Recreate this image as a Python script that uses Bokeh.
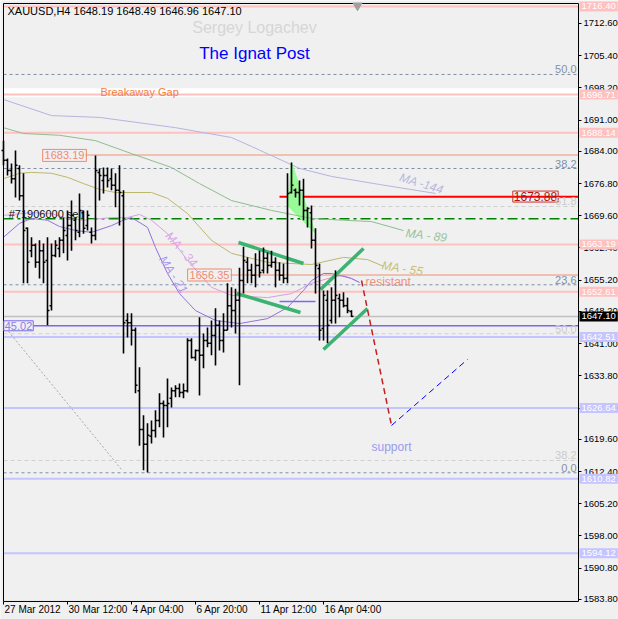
from bokeh.plotting import figure
from bokeh.models import (BoxAnnotation, Label, FixedTicker, LinearAxis,
                          PrintfTickFormatter, ColumnDataSource)
from bokeh.embed import file_html
from bokeh.resources import INLINE

FONT = "Liberation Sans"

# ---------------- data (XAUUSD H4 bars, index = bar number) ----------------
bar_open = [1684.2, 1682.0, 1679.7, 1677.9, 1680.2, 1674.1, 1666.8, 1661.8, 1663.0, 1659.2,
            1661.8, 1659.6, 1649.5, 1660.7, 1662.3, 1664.1, 1665.2, 1667.4, 1668.6, 1665.9,
            1670.3, 1667.4, 1665.9, 1665.2, 1679.3, 1677.5, 1678.6, 1677.9, 1676.4, 1675.3,
            1674.1, 1646.2, 1645.7, 1644.0, 1630.5, 1621.8, 1618.5, 1620.3, 1621.6, 1623.8,
            1627.6, 1627.2, 1628.8, 1630.5, 1631.0, 1630.1, 1630.5, 1641.7, 1637.9, 1639.5,
            1638.4, 1641.7, 1641.1, 1642.8, 1645.1, 1641.7, 1644.0, 1649.5, 1648.4, 1650.7,
            1655.1, 1659.2, 1657.4, 1656.3, 1658.5, 1657.4, 1660.1, 1658.5, 1659.2, 1657.4,
            1656.3, 1655.6, 1674.8, 1675.3, 1674.8, 1675.3, 1670.8, 1670.3, 1664.1, 1657.8,
            1644.4, 1650.7, 1646.2, 1650.7, 1651.1, 1650.7, 1649.5, 1648.19]
bar_high = [1686.4, 1682.4, 1681.3, 1684.2, 1680.9, 1679.1, 1667.0, 1664.8, 1663.4, 1664.1,
            1663.4, 1664.8, 1663.4, 1664.1, 1664.8, 1669.2, 1670.8, 1673.0, 1669.2, 1674.6,
            1670.8, 1670.8, 1667.0, 1683.1, 1680.2, 1680.4, 1680.4, 1680.2, 1679.1, 1680.9,
            1675.3, 1647.8, 1647.8, 1644.6, 1635.7, 1625.0, 1623.2, 1623.8, 1626.1, 1629.9,
            1628.3, 1633.2, 1631.2, 1631.7, 1632.1, 1632.1, 1642.2, 1642.2, 1639.7, 1646.9,
            1643.3, 1644.6, 1646.2, 1648.9, 1646.2, 1647.8, 1654.5, 1653.6, 1653.3, 1658.0,
            1662.7, 1660.3, 1658.9, 1661.2, 1661.8, 1662.5, 1661.4, 1661.8, 1660.3, 1659.2,
            1658.9, 1679.1, 1681.5, 1675.7, 1677.5, 1677.9, 1671.5, 1671.9, 1666.8, 1658.9,
            1652.9, 1652.9, 1653.6, 1657.4, 1652.2, 1652.5, 1651.3, 1648.49]
bar_low = [1680.9, 1678.6, 1676.8, 1673.7, 1673.0, 1654.5, 1654.5, 1660.3, 1658.0, 1655.6,
           1654.5, 1645.1, 1648.4, 1660.3, 1660.3, 1661.2, 1659.6, 1661.8, 1664.1, 1664.8,
           1665.6, 1666.3, 1663.4, 1664.1, 1673.0, 1674.6, 1675.9, 1675.3, 1671.5, 1667.4,
           1638.8, 1642.4, 1640.6, 1629.9, 1618.2, 1612.7, 1612.2, 1618.7, 1620.0, 1622.3,
           1620.0, 1622.3, 1626.7, 1629.0, 1629.0, 1628.8, 1630.1, 1637.7, 1637.2, 1629.4,
           1635.5, 1640.2, 1638.4, 1636.1, 1639.5, 1639.0, 1644.0, 1644.6, 1643.3, 1631.7,
           1652.2, 1654.5, 1654.5, 1653.6, 1655.8, 1656.7, 1656.7, 1658.0, 1653.6, 1655.1,
           1654.5, 1654.5, 1674.6, 1673.7, 1671.9, 1668.6, 1667.0, 1662.3, 1652.2, 1641.7,
           1641.7, 1641.1, 1645.5, 1645.5, 1646.9, 1649.1, 1647.8, 1646.96]
bar_close = [1682.0, 1679.7, 1677.9, 1680.9, 1674.1, 1666.3, 1659.2, 1663.0, 1659.2, 1661.8,
             1659.2, 1648.4, 1660.7, 1663.0, 1664.1, 1666.3, 1667.4, 1669.7, 1666.3, 1670.8,
             1666.8, 1669.7, 1665.2, 1679.7, 1678.6, 1678.6, 1677.5, 1676.4, 1675.3, 1674.8,
             1645.7, 1645.7, 1644.0, 1631.7, 1621.8, 1618.5, 1620.5, 1621.6, 1623.8, 1627.6,
             1627.2, 1627.6, 1630.5, 1631.0, 1630.1, 1630.5, 1641.7, 1637.9, 1639.5, 1638.4,
             1641.7, 1641.1, 1642.8, 1645.1, 1641.7, 1644.0, 1649.5, 1648.4, 1650.7, 1655.1,
             1659.6, 1657.4, 1656.3, 1658.5, 1656.9, 1660.1, 1658.5, 1659.2, 1657.4, 1656.3,
             1655.6, 1674.6, 1676.4, 1674.8, 1675.3, 1670.8, 1671.2, 1664.1, 1658.5, 1644.0,
             1651.8, 1645.1, 1650.7, 1651.8, 1650.7, 1649.5, 1648.4, 1647.10]

# moving averages (bar index, value)
ma144_x = [0, 12, 24, 43, 57, 62, 74, 82, 94, 108]
ma144_y = [1695.6, 1692.0, 1691.6, 1689.3, 1687.1, 1685.1, 1680.2, 1678.4, 1676.6, 1674.6]
ma89_x = [0, 5, 14, 23, 32, 42, 49, 57, 67, 77, 85, 92, 100]
ma89_y = [1689.3, 1688.0, 1687.6, 1686.4, 1683.5, 1680.4, 1676.8, 1673.0, 1670.8, 1669.0,
          1668.6, 1668.3, 1666.3]
ma55_x = [0, 4, 7, 12, 16, 20, 24, 28, 37, 41, 46, 52, 57, 66, 77, 85, 91, 95]
ma55_y = [1677.9, 1679.1, 1679.3, 1679.1, 1678.2, 1676.8, 1675.5, 1674.8, 1674.8, 1673.5,
          1670.1, 1664.1, 1661.2, 1659.2, 1658.7, 1660.3, 1659.8, 1658.3]
ma34_x = [0, 7, 12, 16, 20, 27, 31, 34, 37, 41, 46, 52, 57, 66, 72, 77, 82, 85, 89]
ma34_y = [1669.7, 1670.3, 1670.1, 1669.0, 1668.6, 1669.2, 1669.2, 1669.9, 1668.6, 1665.6,
          1659.6, 1653.6, 1651.8, 1651.3, 1652.2, 1654.5, 1655.8, 1656.3, 1654.7]
ma21_x = [0, 4, 7, 11, 14, 18, 22, 27, 30, 32, 36, 38, 41, 44, 48, 53, 59, 66, 71, 75,
          77, 80, 82, 87, 89]
ma21_y = [1664.8, 1667.9, 1669.0, 1668.6, 1667.2, 1666.3, 1665.9, 1667.4, 1668.6, 1669.2,
          1667.0, 1662.5, 1656.7, 1652.2, 1648.4, 1646.2, 1645.5, 1646.6, 1649.1, 1652.9,
          1655.1, 1656.7, 1656.7, 1655.6, 1654.7]

# horizontal levels
pink_levels = [1716.40, 1696.71, 1688.14, 1663.19, 1652.61]
lavender_levels = [1642.51, 1626.64, 1610.82, 1594.12]
bid_level = 1647.10
gap_zone = (1696.1, 1698.1)
fibo_a_levels = [1701.2, 1680.17, 1654.17, 1612.13]
fibo_a_names = ["50.0", "38.2", "23.6", "0.0"]
fibo_b_levels = [1671.68, 1643.21, 1614.88]
fibo_b_names = ["61.8", "50.0", "38.2"]
order_level = 1668.93
# levels drawn from a start bar to the right edge
ray_start = [20.5, 56.75, 69.0, 7.5]
ray_price = [1683.19, 1656.35, 1673.88, 1645.02]
short_seg = ([69, 78], 1650.44)

# trend channels (bar, price)
ch_x0 = [58.75, 58.25, 79.25, 80.0]
ch_y0 = [1663.63, 1652.23, 1653.12, 1639.70]
ch_x1 = [75.0, 74.25, 90.0, 91.0]
ch_y1 = [1658.93, 1647.97, 1662.29, 1648.87]
tri_x = [72, 71, 78]
tri_y = [1681.52, 1671.90, 1665.64]
fcst_red_x = [89.5, 97]
fcst_red_y = [1655.13, 1622.71]
fcst_blue_x = [97, 116]
fcst_blue_y = [1622.71, 1637.47]
fib_trend_x = [1.25, 29.5]
fib_trend_y = [1643.73, 1612.87]

y_ticks = [1712.60, 1705.40, 1698.20, 1691.00, 1684.00, 1676.80, 1669.60, 1662.40,
           1655.20, 1648.20, 1641.00, 1633.80, 1626.60, 1619.60, 1612.40, 1605.20,
           1598.00, 1590.80, 1583.80]
x_ticks = [0, 16, 32, 48, 64, 80]
x_tick_labels = ["27 Mar 2012", "30 Mar 12:00", "4 Apr 04:00", "6 Apr 20:00",
                 "11 Apr 12:00", "16 Apr 04:00"]

# chart area (in data units) and whole-canvas ranges
X_L, X_R = 0.0, 143.75
Y_B, Y_T = 1583.35, 1717.07
CANVAS_X = (-0.75, 153.75)
CANVAS_Y = (1579.32, 1717.74)

# ---------------- figure ----------------
p = figure(width=618, height=619, x_range=CANVAS_X, y_range=CANVAS_Y,
           output_backend="svg", toolbar_location=None,
           x_axis_location=None, y_axis_location=None,
           min_border_left=0, min_border_top=0, min_border_right=0, min_border_bottom=0,
           background_fill_color="#F0F0F0", border_fill_color="#F0F0F0")
p.grid.visible = False
p.outline_line_color = None

ya = LinearAxis(fixed_location=X_R)
ya.ticker = FixedTicker(ticks=y_ticks)
ya.formatter = PrintfTickFormatter(format="%.2f")
ya.major_label_text_font = FONT
ya.major_label_text_font_size = "9.5px"
ya.major_label_text_color = "black"
ya.major_tick_out = 3
ya.major_tick_in = 0
ya.minor_tick_line_color = None
ya.major_label_standoff = 2
ya.axis_line_color = None
p.add_layout(ya, "right")

xa = LinearAxis(fixed_location=Y_B)
xa.ticker = FixedTicker(ticks=x_ticks)
xa.major_label_text_color = None
xa.major_label_text_font_size = "1px"
xa.major_tick_out = 3
xa.major_tick_in = 0
xa.minor_tick_line_color = None
xa.axis_line_color = None
p.add_layout(xa, "below")


def txt(x, y, s, color, size, align="left", baseline="middle", angle=0.0,
        style="normal", bg=None, border=None, pad=0, x_offset=0, y_offset=0):
    lab = Label(x=x, y=y, text=s, text_color=color, text_font_size=f"{size}px",
                text_align=align, text_baseline=baseline, angle=angle,
                text_font_style=style, text_font=FONT, x_offset=x_offset,
                y_offset=y_offset, padding=pad)
    if bg:
        lab.background_fill_color = bg
    if border:
        lab.border_line_color = border
    p.add_layout(lab)


def hline(level, color, width, dash="solid", x0=X_L):
    p.segment(x0=[x0], y0=[level], x1=[X_R], y1=[level], line_color=color,
              line_width=width, line_dash=dash)


# background objects
p.add_layout(BoxAnnotation(left=X_L, right=X_R, bottom=gap_zone[0], top=gap_zone[1],
                           fill_color="white", fill_alpha=1, line_color=None,
                           level="underlay"))
for lv in pink_levels:
    hline(lv, "#FFC0C0", 2)
for lv in lavender_levels:
    hline(lv, "#C4C4FF", 2)
for lv in fibo_a_levels:
    hline(lv, "#7E8FA3", 1, "3 3")
for lv in fibo_b_levels:
    hline(lv, "#CFCFCF", 1, "4 3")
hline(bid_level, "#C0C0C0", 1.5)
hline(order_level, "#008000", 1.5, "10 4 3 4")

ray_colors = ["#F09070", "#F09070", "#FF0000", "#7B68EE"]
ray_widths = [1, 1, 2, 1.5]
for xs, yv, c, w in zip(ray_start, ray_price, ray_colors, ray_widths):
    hline(yv, c, w, x0=xs)
p.segment(x0=[short_seg[0][0]], y0=[short_seg[1]], x1=[short_seg[0][1]], y1=[short_seg[1]],
          line_color="#7B68EE", line_width=1.5)

p.line(fib_trend_x, fib_trend_y, line_color="#A8A8A8", line_width=1, line_dash="2 2")
p.patch(tri_x, tri_y, fill_color="#98FB98", line_color="#98FB98", fill_alpha=1)

# moving averages
p.line(ma144_x, ma144_y, line_color="#B4B4DE", line_width=1)
p.line(ma89_x, ma89_y, line_color="#8FBC8F", line_width=1)
p.line(ma55_x, ma55_y, line_color="#BDB76B", line_width=1)
p.line(ma34_x, ma34_y, line_color="#D8A0E0", line_width=1)
p.line(ma21_x, ma21_y, line_color="#9370DB", line_width=1)

# channels and forecast
p.segment(x0=ch_x0, y0=ch_y0, x1=ch_x1, y1=ch_y1, line_color="#3CB371", line_width=3.5)
p.line(fcst_red_x, fcst_red_y, line_color="#C02020", line_width=1.5, line_dash="6 4")
p.line(fcst_blue_x, fcst_blue_y, line_color="#0000FF", line_width=1, line_dash="6 4")

# OHLC bars
idx = list(range(len(bar_open)))
src = ColumnDataSource(dict(x=idx, o=bar_open, h=bar_high, l=bar_low, c=bar_close,
                            xl=[i - 0.5 for i in idx], xr=[i + 0.5 for i in idx]))
p.segment(x0="x", y0="h", x1="x", y1="l", source=src, line_color="black", line_width=1.6)
p.segment(x0="xl", y0="o", x1="x", y1="o", source=src, line_color="black", line_width=1.5)
p.segment(x0="x", y0="c", x1="xr", y1="c", source=src, line_color="black", line_width=1.5)

# chart frame
p.quad(left=[X_L], right=[X_R], bottom=[Y_B], top=[Y_T], fill_color=None,
       line_color="black", line_width=1)
p.scatter([88.5], [1716.6], marker="inverted_triangle", size=9, color="#A0A0A0")

# ---------------- texts ----------------
txt(1.0, 1715.5, "XAUUSD,H4  1648.19 1648.49 1646.96 1647.10", "black", 11)
txt(62.75, 1711.7, "Sergey Logachev", "#D6D6D6", 16, align="center")
txt(62.75, 1705.9, "The Ignat Post", "#0000FF", 17, align="center")
txt(24.25, 1697.3, "Breakaway Gap", "#F08040", 11)
txt(1.3, 1670.1, "#71906000 sell", "#101010", 11)
txt(90.5, 1654.7, "resistant", "#F09080", 12)
txt(97, 1618.0, "support", "#9A9AEE", 12, align="center")

txt(104.5, 1676.8, "MA -144", "#B8B8DC", 12, align="center", angle=-0.3, style="italic")
txt(105.75, 1665.2, "MA - 89", "#98C498", 12, align="center", angle=-0.12, style="italic")
txt(99.75, 1657.8, "MA - 55", "#C8C078", 12, align="center", angle=-0.15, style="italic")
txt(44.5, 1662.1, "MA - 34", "#DCA8E8", 12, align="center", angle=-0.85, style="italic")
txt(42.5, 1656.4, "MA - 21", "#A898F0", 12, align="center", angle=-1.0, style="italic")

txt(15.25, 1683.1, "1683.19", "#F08A70", 11, align="center", border="#F08A70", pad=2)
txt(51.5, 1656.36, "1656.35", "#F08A70", 11, align="center", border="#F08A70", pad=2)
txt(133.0, 1673.9, "1673.88", "#B01010", 12, align="center", border="#C83030", pad=1)
txt(3.75, 1645.0, "45.02", "#8C7CF0", 11, align="center", border="#7B68EE", pad=1)

for lv, nm in zip(fibo_a_levels, fibo_a_names):
    txt(X_R, lv, nm, "#8090A8", 11, align="right", baseline="bottom", x_offset=-2, y_offset=1)
for lv, nm in zip(fibo_b_levels, fibo_b_names):
    txt(X_R, lv, nm, "#CBCBCB", 11, align="right", baseline="bottom", x_offset=-2, y_offset=1)

for lv in pink_levels:
    txt(X_R, lv, f"{lv:.2f}", "white", 9.5, bg="#FFC0C0", pad=2, x_offset=1)
for lv in lavender_levels:
    txt(X_R, lv, f"{lv:.2f}", "white", 9.5, bg="#C4C4FF", pad=2, x_offset=1)
txt(X_R, bid_level, f"{bid_level:.2f}", "white", 9.5, bg="black", pad=2, x_offset=1)

for xt, lt in zip(x_ticks, x_tick_labels):
    txt(xt, Y_B, lt, "black", 10, baseline="top", y_offset=-3, x_offset=1)

open("out.html", "w").write(file_html(p, INLINE))
